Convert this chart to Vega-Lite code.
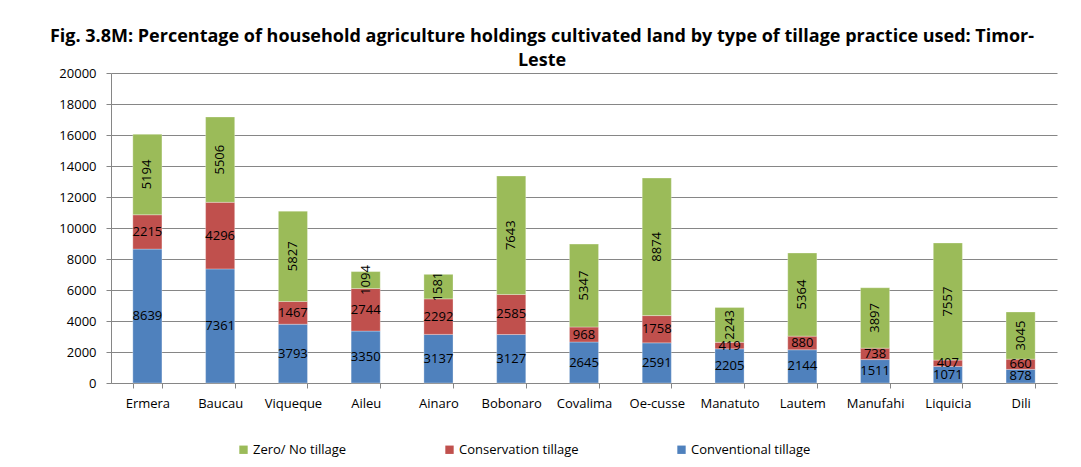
{
  "$schema": "https://vega.github.io/schema/vega-lite/v6.json",
  "autosize": {"type": "none"},
  "width": 946,
  "height": 310,
  "padding": {"left": 111, "top": 73, "right": 24, "bottom": 84},
  "background": "white",
  "title": {
    "text": ["Fig. 3.8M: Percentage of household agriculture holdings cultivated land  by type of tillage practice used: Timor-", "Leste"],
    "font": "Open Sans",
    "fontSize": 18,
    "fontWeight": "bold",
    "color": "#000000",
    "anchor": "middle",
    "lineHeight": 24,
    "offset": 6,
    "dx": -42,
    "dy": 9
  },
  "data": {
    "values": [
      {"district": "Ermera", "type": "Conventional tillage", "order": 1, "value": 8639},
      {"district": "Ermera", "type": "Conservation tillage", "order": 2, "value": 2215},
      {"district": "Ermera", "type": "Zero/ No tillage", "order": 3, "value": 5194},
      {"district": "Baucau", "type": "Conventional tillage", "order": 1, "value": 7361},
      {"district": "Baucau", "type": "Conservation tillage", "order": 2, "value": 4296},
      {"district": "Baucau", "type": "Zero/ No tillage", "order": 3, "value": 5506},
      {"district": "Viqueque", "type": "Conventional tillage", "order": 1, "value": 3793},
      {"district": "Viqueque", "type": "Conservation tillage", "order": 2, "value": 1467},
      {"district": "Viqueque", "type": "Zero/ No tillage", "order": 3, "value": 5827},
      {"district": "Aileu", "type": "Conventional tillage", "order": 1, "value": 3350},
      {"district": "Aileu", "type": "Conservation tillage", "order": 2, "value": 2744},
      {"district": "Aileu", "type": "Zero/ No tillage", "order": 3, "value": 1094},
      {"district": "Ainaro", "type": "Conventional tillage", "order": 1, "value": 3137},
      {"district": "Ainaro", "type": "Conservation tillage", "order": 2, "value": 2292},
      {"district": "Ainaro", "type": "Zero/ No tillage", "order": 3, "value": 1581},
      {"district": "Bobonaro", "type": "Conventional tillage", "order": 1, "value": 3127},
      {"district": "Bobonaro", "type": "Conservation tillage", "order": 2, "value": 2585},
      {"district": "Bobonaro", "type": "Zero/ No tillage", "order": 3, "value": 7643},
      {"district": "Covalima", "type": "Conventional tillage", "order": 1, "value": 2645},
      {"district": "Covalima", "type": "Conservation tillage", "order": 2, "value": 968},
      {"district": "Covalima", "type": "Zero/ No tillage", "order": 3, "value": 5347},
      {"district": "Oe-cusse", "type": "Conventional tillage", "order": 1, "value": 2591},
      {"district": "Oe-cusse", "type": "Conservation tillage", "order": 2, "value": 1758},
      {"district": "Oe-cusse", "type": "Zero/ No tillage", "order": 3, "value": 8874},
      {"district": "Manatuto", "type": "Conventional tillage", "order": 1, "value": 2205},
      {"district": "Manatuto", "type": "Conservation tillage", "order": 2, "value": 419},
      {"district": "Manatuto", "type": "Zero/ No tillage", "order": 3, "value": 2243},
      {"district": "Lautem", "type": "Conventional tillage", "order": 1, "value": 2144},
      {"district": "Lautem", "type": "Conservation tillage", "order": 2, "value": 880},
      {"district": "Lautem", "type": "Zero/ No tillage", "order": 3, "value": 5364},
      {"district": "Manufahi", "type": "Conventional tillage", "order": 1, "value": 1511},
      {"district": "Manufahi", "type": "Conservation tillage", "order": 2, "value": 738},
      {"district": "Manufahi", "type": "Zero/ No tillage", "order": 3, "value": 3897},
      {"district": "Liquicia", "type": "Conventional tillage", "order": 1, "value": 1071},
      {"district": "Liquicia", "type": "Conservation tillage", "order": 2, "value": 407},
      {"district": "Liquicia", "type": "Zero/ No tillage", "order": 3, "value": 7557},
      {"district": "Dili", "type": "Conventional tillage", "order": 1, "value": 878},
      {"district": "Dili", "type": "Conservation tillage", "order": 2, "value": 660},
      {"district": "Dili", "type": "Zero/ No tillage", "order": 3, "value": 3045}
    ]
  },
  "transform": [
    {"stack": "value", "groupby": ["district"], "sort": [{"field": "order", "order": "ascending"}], "as": ["y0", "y1"]},
    {"calculate": "(datum.y0 + datum.y1) / 2", "as": "ymid"}
  ],
  "encoding": {
    "x": {
      "field": "district",
      "type": "nominal",
      "sort": null,
      "title": null,
      "scale": {"paddingInner": 0.6, "paddingOuter": 0.3},
      "axis": {
        "labelAngle": 0,
        "labelFont": "Open Sans",
        "labelFontSize": 13,
        "labelColor": "#000000",
        "tickBand": "extent",
        "tickSize": 5,
        "tickColor": "#868686",
        "domainColor": "#868686",
        "labelPadding": 9,
        "grid": false
      }
    }
  },
  "layer": [
    {
      "mark": {"type": "bar", "stroke": "white", "strokeWidth": 0.5, "strokeOpacity": 0.6},
      "encoding": {
        "y": {
          "field": "y0",
          "type": "quantitative",
          "title": null,
          "scale": {"domain": [0, 20000], "nice": false},
          "axis": {
            "values": [0, 2000, 4000, 6000, 8000, 10000, 12000, 14000, 16000, 18000, 20000],
            "labelOverlap": false,
            "labelFont": "Open Sans",
            "labelFontSize": 13,
            "labelColor": "#000000",
            "tickSize": 5,
            "tickColor": "#868686",
            "domainColor": "#868686",
            "gridColor": "#868686",
            "gridWidth": 1,
            "labelPadding": 10,
            "format": "d"
          }
        },
        "y2": {"field": "y1"},
        "color": {
          "field": "type",
          "type": "nominal",
          "scale": {
            "domain": ["Zero/ No tillage", "Conservation tillage", "Conventional tillage"],
            "range": ["#9BBB59", "#C0504D", "#4F81BD"]
          },
          "legend": {
            "title": null,
            "orient": "none",
            "legendX": 126,
            "legendY": 370,
            "direction": "horizontal",
            "symbolType": "square",
            "symbolSize": 70,
            "symbolStrokeWidth": 0,
            "labelFont": "Open Sans",
            "labelFontSize": 13,
            "labelColor": "#000000",
            "columnPadding": 96,
            "labelOffset": 3
          }
        }
      }
    },
    {
      "transform": [{"filter": "datum.order != 3"}],
      "mark": {"type": "text", "font": "Open Sans", "fontSize": 13, "color": "#000000", "baseline": "middle", "align": "center"},
      "encoding": {
        "y": {
          "field": "ymid",
          "type": "quantitative",
          "title": null,
          "axis": {
            "values": [0, 2000, 4000, 6000, 8000, 10000, 12000, 14000, 16000, 18000, 20000],
            "labelOverlap": false,
            "labelFont": "Open Sans",
            "labelFontSize": 13,
            "labelColor": "#000000",
            "tickSize": 5,
            "tickColor": "#868686",
            "domainColor": "#868686",
            "gridColor": "#868686",
            "gridWidth": 1,
            "labelPadding": 10,
            "format": "d"
          }
        },
        "text": {"field": "value", "type": "quantitative", "format": "d"}
      }
    },
    {
      "transform": [{"filter": "datum.order == 3"}],
      "mark": {"type": "text", "font": "Open Sans", "fontSize": 13, "color": "#000000", "baseline": "middle", "align": "center", "angle": 270},
      "encoding": {
        "y": {
          "field": "ymid",
          "type": "quantitative",
          "title": null,
          "axis": {
            "values": [0, 2000, 4000, 6000, 8000, 10000, 12000, 14000, 16000, 18000, 20000],
            "labelOverlap": false,
            "labelFont": "Open Sans",
            "labelFontSize": 13,
            "labelColor": "#000000",
            "tickSize": 5,
            "tickColor": "#868686",
            "domainColor": "#868686",
            "gridColor": "#868686",
            "gridWidth": 1,
            "labelPadding": 10,
            "format": "d"
          }
        },
        "text": {"field": "value", "type": "quantitative", "format": "d"}
      }
    }
  ],
  "config": {
    "view": {"stroke": null},
    "axis": {"domainWidth": 1}
  }
}
